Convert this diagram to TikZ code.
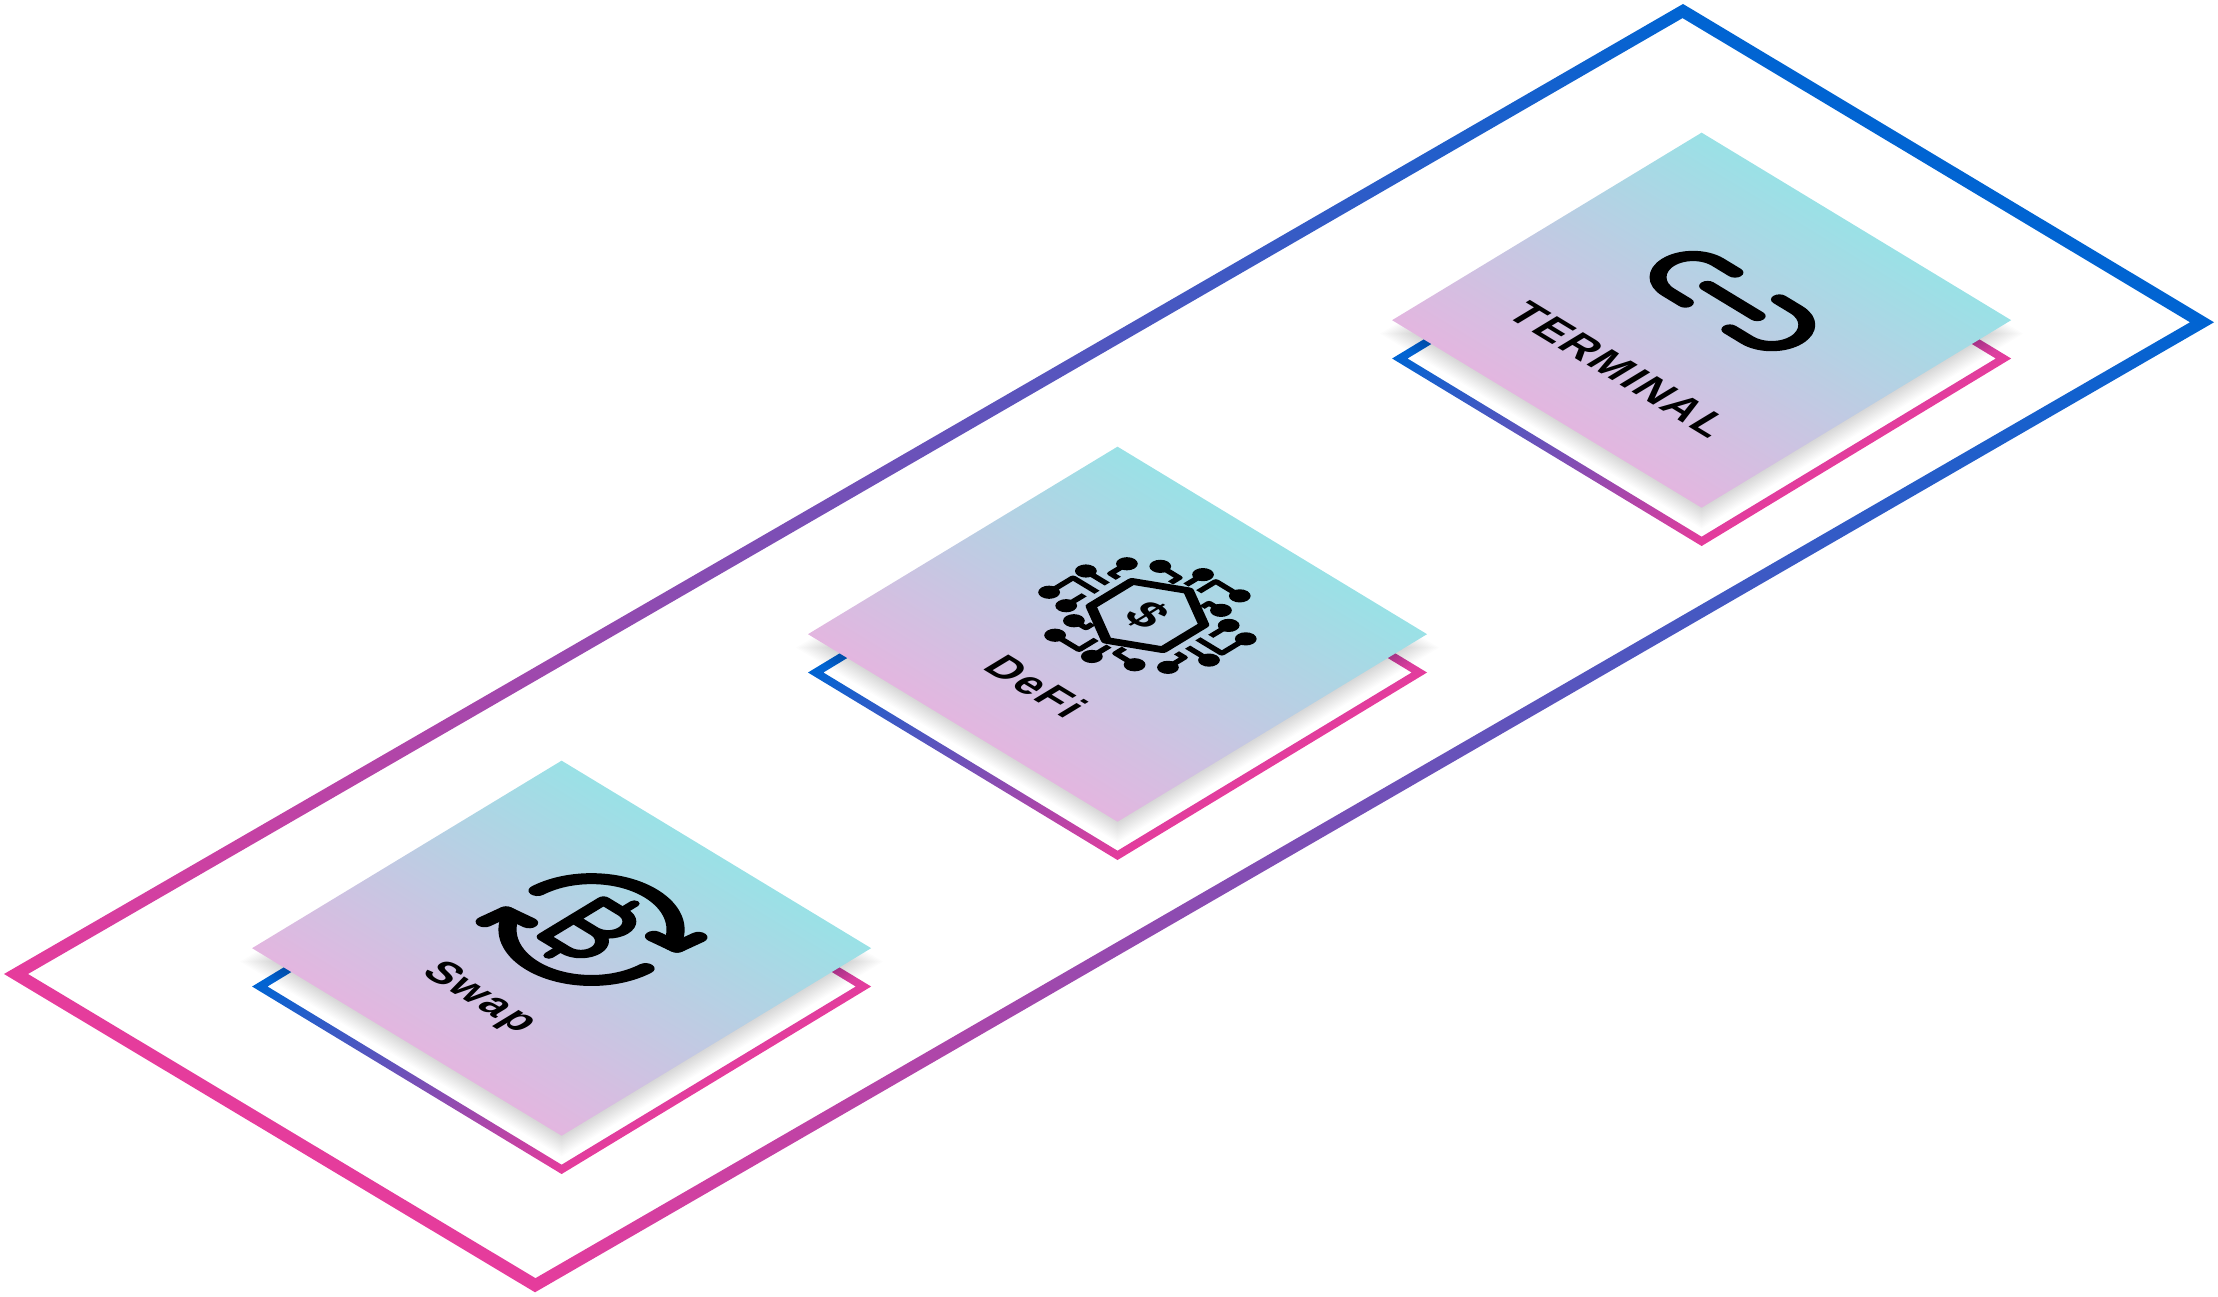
\documentclass[tikz,border=0pt]{standalone}
\usepackage{fontspec}
\setsansfont[LetterSpace=5]{Liberation Sans}
\usepackage{xcolor}
\definecolor{FrameBlue}{RGB}{0,100,210}
\definecolor{FramePink}{RGB}{230,60,156}
\definecolor{CardCyan}{RGB}{154,225,230}
\definecolor{CardPink}{RGB}{227,182,224}
\def\cs{1.81}
\def\cf{1.72}
\tikzset{
  iso/.style={transform canvas={cm={.855,-.518,.855,.518,(#1)}}},
  bigframe/.style={transform canvas={cm={16.79,9.70,5.31,-3.183,(.04,3.23)}}},
  cardface/.style={top color=CardCyan, bottom color=CardPink},
  cardframe/.style={left color=FrameBlue, right color=FramePink, even odd rule},
  shadowstep/.style={fill=black, opacity=.011},
  iconline/.style={draw=black, line cap=round, line join=round},
  cardlabel/.style={font=\sffamily\bfseries\fontsize{12}{14}\selectfont, text=black, inner sep=0pt},
}
\begin{document}
\begin{tikzpicture}
  \useasboundingbox (0,0) rectangle (22.18,12.97);
  % outer frame
  \begin{scope}[bigframe]
    \shade[left color=FramePink, right color=FrameBlue, even odd rule]
      (0,0) rectangle (1,1) (.0073,.0222) rectangle (.9927,.9778);
  \end{scope}
  % cards
  \foreach \cx/\cy in {5.616/3.488, 11.175/6.628, 17.016/9.768} {
    \begin{scope}[iso={\cx,\cy}]
      \begin{scope}[shift={(.37,-.37)}]
        \shade[cardframe] (-\cs,-\cs) rectangle (\cs,\cs) (-\cf,-\cf) rectangle (\cf,\cf);
      \end{scope}
      \foreach \e in {.07,.055,.04,.025,.01,-.005,-.02,-.035,-.05,-.065,-.08,-.095,-.11,-.125}
        \fill[shadowstep] (-\cs-\e+.13,-\cs-\e-.13) rectangle (\cs+\e+.13,\cs+\e-.13);
      \shade[cardface] (-\cs,-\cs) rectangle (\cs,\cs);
    \end{scope}
  }
  % swap icon
  \begin{scope}[iso={5.616,3.493}]
    \node[cardlabel] (swaplabel) at (0,-.97) {Swap};
    \begin{scope}[shift={(0,.35)}]
      \foreach \r in {0,180} {
        \begin{scope}[rotate=\r]
          \draw[iconline, line width=.15cm] (175:.695) arc (175:28:.695) -- (.67,.33);
          \draw[iconline, line width=.15cm] (.43,.30) -- (.67,.33) -- (.70,.55);
        \end{scope}
      }
      \draw[iconline, line width=.115cm] (-.21,.35) -- (.02,.35) arc (90:-90:.175) -- (.05,0)
        arc (90:-90:.175) -- (-.21,-.35) -- cycle (-.21,0) -- (.05,0);
      \draw[iconline, line width=.09cm] (0,.35) -- (0,.50) (0,-.35) -- (0,-.50);
    \end{scope}
  \end{scope}
  % defi icon
  \begin{scope}[iso={11.175,6.633}]
    \node[cardlabel] (defilabel) at (.03,-.98) {DeFi};
    \begin{scope}[shift={(0,.35)}]
      \draw[iconline, line width=.09cm] (0,.48) -- (.42,.24) -- (.42,-.24) -- (0,-.48) -- (-.42,-.24) -- (-.42,.24) -- cycle;
      \node[font=\sffamily\bfseries\fontsize{14}{16}\selectfont, inner sep=0pt] (defisign) at (0,0) {\$};
      \foreach \r in {0,180} {
        \begin{scope}[rotate=\r, iconline, line width=.06cm, line cap=butt]
          \foreach \px/\py in {-.62/.38, -.79/.07, -.80/-.35, -.57/-.38, -.38/-.48, -.35/-.73, .07/-.72, .40/-.55}
            \fill (\px,\py) circle (.09);
          \draw (-.62,.38) -- (-.62,.19) -- (-.53,.19);
          \draw (-.79,.07) -- (-.54,.07);
          \draw (-.80,-.35) -- (-.80,-.07) -- (-.52,-.07);
          \draw (-.57,-.38) -- (-.57,-.17);
          \draw (-.38,-.48) -- (-.24,-.48) -- (-.24,-.40);
          \draw (-.35,-.73) -- (-.07,-.73) -- (-.07,-.53);
          \draw (.07,-.72) -- (.07,-.52);
          \draw (.40,-.55) -- (.18,-.55) -- (.18,-.45);
        \end{scope}
      }
    \end{scope}
  \end{scope}
  % terminal icon
  \begin{scope}[iso={17.016,9.773}]
    \node[cardlabel, font=\sffamily\bfseries\fontsize{12.3}{14}\selectfont] (terminallabel) at (0,-.96) {TERMINAL};
    \begin{scope}[shift={(0,.36)}]
      \draw[iconline, line width=.14cm] (-.29,0) -- (.29,0);
      \draw[iconline, line width=.14cm] (-.26,.29) -- (-.46,.29) arc (90:270:.29) -- (-.26,-.29);
      \draw[iconline, line width=.14cm] (.26,-.29) -- (.46,-.29) arc (-90:90:.29) -- (.26,.29);
    \end{scope}
  \end{scope}
\end{tikzpicture}
\end{document}
